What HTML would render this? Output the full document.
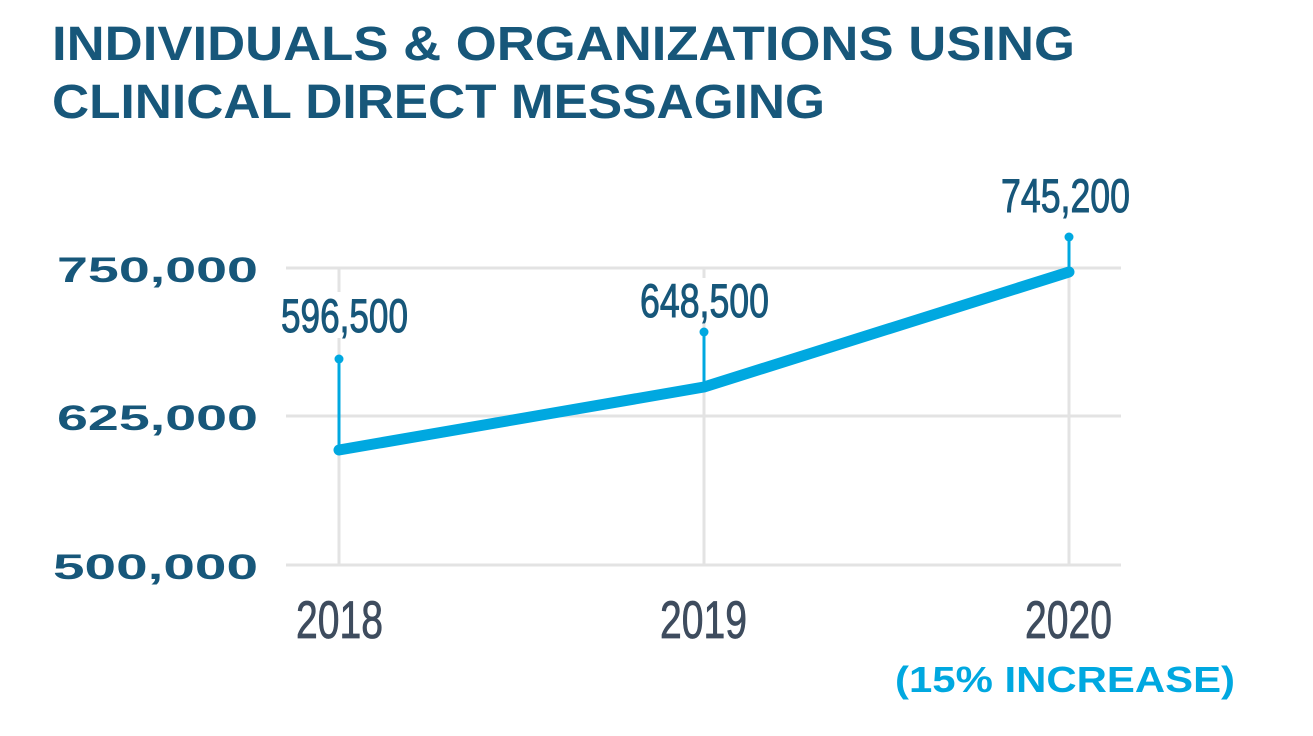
<!DOCTYPE html>
<html><head><meta charset="utf-8"><style>html,body{margin:0;padding:0;background:#fff}</style></head>
<body>
<svg width="1313" height="731" viewBox="0 0 1313 731" xmlns="http://www.w3.org/2000/svg">
<g font-family="Liberation Sans, sans-serif" font-weight="bold" fill="#17577a">
<text x="52" y="60" font-size="48" textLength="1023" lengthAdjust="spacingAndGlyphs">INDIVIDUALS &amp; ORGANIZATIONS USING</text>
<text x="52" y="118" font-size="48" textLength="773" lengthAdjust="spacingAndGlyphs">CLINICAL DIRECT MESSAGING</text>
<text x="57" y="282" font-size="35" textLength="201" lengthAdjust="spacingAndGlyphs">750,000</text>
<text x="57" y="430" font-size="35" textLength="201" lengthAdjust="spacingAndGlyphs">625,000</text>
<text x="53" y="579" font-size="35" textLength="205" lengthAdjust="spacingAndGlyphs">500,000</text>
</g>
<g stroke="#e3e3e3" stroke-width="3">
<line x1="286" y1="268" x2="1121" y2="268"/>
<line x1="286" y1="416" x2="1121" y2="416"/>
<line x1="286" y1="565" x2="1121" y2="565"/>
<line x1="339" y1="268" x2="339" y2="565"/>
<line x1="704" y1="268" x2="704" y2="565"/>
<line x1="1069" y1="268" x2="1069" y2="565"/>
</g>
<g fill="#fff">
<rect x="272" y="292" width="142" height="46"/>
<rect x="634" y="278" width="142" height="46"/>
</g>
<g stroke="#00a8e0" stroke-width="3" fill="#00a8e0">
<line x1="339" y1="359" x2="339" y2="450"/>
<line x1="704" y1="332" x2="704" y2="387"/>
<line x1="1069" y1="237" x2="1069" y2="272"/>
<circle cx="339" cy="359" r="4.5" stroke="none"/>
<circle cx="704" cy="332" r="4.5" stroke="none"/>
<circle cx="1069" cy="237" r="4.5" stroke="none"/>
</g>
<polyline points="339,450 704,387 1069,272" fill="none" stroke="#00a8e0" stroke-width="11" stroke-linecap="round" stroke-linejoin="round"/>
<g font-family="Liberation Sans, sans-serif" fill="#17577a" stroke="#17577a" stroke-width="1" font-size="47">
<text x="281" y="332" textLength="127" lengthAdjust="spacingAndGlyphs">596,500</text>
<text x="640" y="317" textLength="129" lengthAdjust="spacingAndGlyphs">648,500</text>
<text x="1001" y="212" textLength="129" lengthAdjust="spacingAndGlyphs">745,200</text>
</g>
<g font-family="Liberation Sans, sans-serif" fill="#3e4c5e" stroke="#3e4c5e" stroke-width="0.8" font-size="53">
<text x="296" y="638" textLength="87" lengthAdjust="spacingAndGlyphs">2018</text>
<text x="660" y="638" textLength="87" lengthAdjust="spacingAndGlyphs">2019</text>
<text x="1025" y="638" textLength="87" lengthAdjust="spacingAndGlyphs">2020</text>
</g>
<text x="895" y="692" font-family="Liberation Sans, sans-serif" font-weight="bold" font-size="36" fill="#00a8e0" textLength="340" lengthAdjust="spacingAndGlyphs">(15% INCREASE)</text>
</svg>
</body></html>
